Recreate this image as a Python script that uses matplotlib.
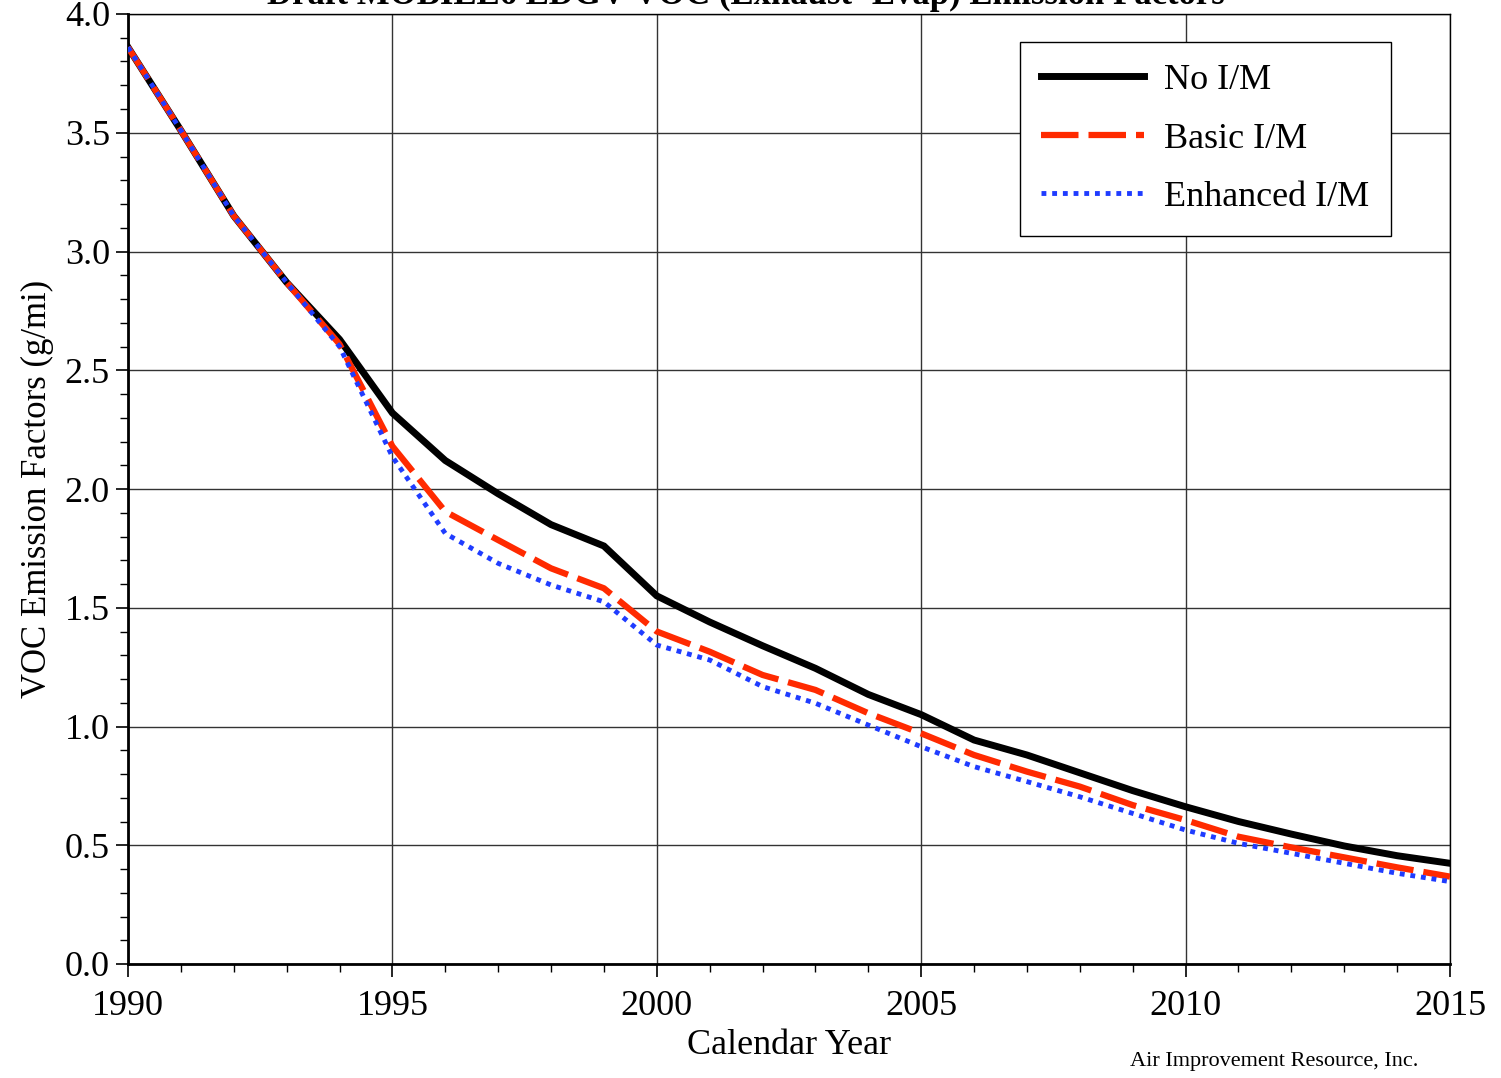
import matplotlib.pyplot as plt
from matplotlib.ticker import MultipleLocator

years = list(range(1990, 2016))

no_im = [3.86, 3.51, 3.15, 2.87, 2.63, 2.32, 2.12, 1.98, 1.85, 1.76,
         1.55, 1.44, 1.34, 1.245, 1.135, 1.05, 0.943, 0.88, 0.805, 0.73,
         0.662, 0.60, 0.547, 0.497, 0.456, 0.424]
basic_im = [3.86, 3.51, 3.15, 2.87, 2.61, 2.18, 1.905, 1.785, 1.666, 1.582,
            1.40, 1.315, 1.217, 1.154, 1.056, 0.971, 0.88, 0.81, 0.747, 0.669,
            0.606, 0.536, 0.491, 0.449, 0.407, 0.368]
enhanced_im = [3.86, 3.51, 3.15, 2.87, 2.60, 2.136, 1.813, 1.687, 1.596, 1.525,
               1.343, 1.28, 1.168, 1.098, 1.006, 0.915, 0.831, 0.768, 0.704, 0.634,
               0.564, 0.508, 0.466, 0.424, 0.382, 0.347]

plt.rcParams['font.family'] = ['Liberation Serif', 'DejaVu Serif']

fig = plt.figure(figsize=(15.01, 10.78), dpi=100)
ax = fig.add_axes([128 / 1501, 1 - 964 / 1078, (1450 - 128) / 1501, (964 - 14) / 1078])

ax.plot(years, no_im, color='black', lw=5, solid_joinstyle='miter', label='No I/M', zorder=3)
ax.plot(years, basic_im, color='#ff2a00', lw=4.5, ls=(0, (6, 1.6)), label='Basic I/M', zorder=4)
ax.plot(years, enhanced_im, color='#1f3cff', lw=3.5, ls=(0, (1, 1.2)), label='Enhanced I/M', zorder=5)

ax.set_xlim(1990, 2015)
ax.set_ylim(0, 4)
ax.xaxis.set_major_locator(MultipleLocator(5))
ax.xaxis.set_minor_locator(MultipleLocator(1))
ax.yaxis.set_major_locator(MultipleLocator(0.5))
ax.yaxis.set_minor_locator(MultipleLocator(0.1))
ax.yaxis.set_major_formatter(plt.FuncFormatter(lambda v, p: f'{v:.1f}'))

ax.grid(True, which='major', color='#333333', lw=1.0)
ax.tick_params(which='major', direction='out', length=9, width=1.2, labelsize=26, pad=4)
ax.tick_params(axis='x', which='major', pad=10)
ax.tick_params(which='minor', direction='out', length=6, width=1.0)
for side in ['left', 'bottom']:
    ax.spines[side].set_linewidth(2)
for side in ['top', 'right']:
    ax.spines[side].set_linewidth(1)

ax.set_xlabel('Calendar Year', fontsize=26, labelpad=4)
ax.set_ylabel('VOC Emission Factors (g/mi)', fontsize=25, labelpad=8)

# title sits mostly above the canvas, as in the original
fig.text(0.497, 1 - 4 / 1078, 'Draft MOBILE6 LDGV VOC (Exhaust+Evap) Emission Factors',
         ha='center', va='baseline', fontsize=25, fontweight='bold')
fig.text(1418 / 1501, 1 - 1066 / 1078, 'Air Improvement Resource, Inc.',
         ha='right', va='baseline', fontsize=16)

leg = fig.legend(loc='upper right', bbox_to_anchor=(1391 / 1501, 1 - 42 / 1078),
                 borderaxespad=0, fontsize=26, handlelength=2.85, handletextpad=0.55,
                 labelspacing=0.7, borderpad=0.6, fancybox=False, framealpha=1)
leg.get_frame().set_edgecolor('black')
leg.get_frame().set_linewidth(1)

fig.savefig('out.png', dpi=100)
